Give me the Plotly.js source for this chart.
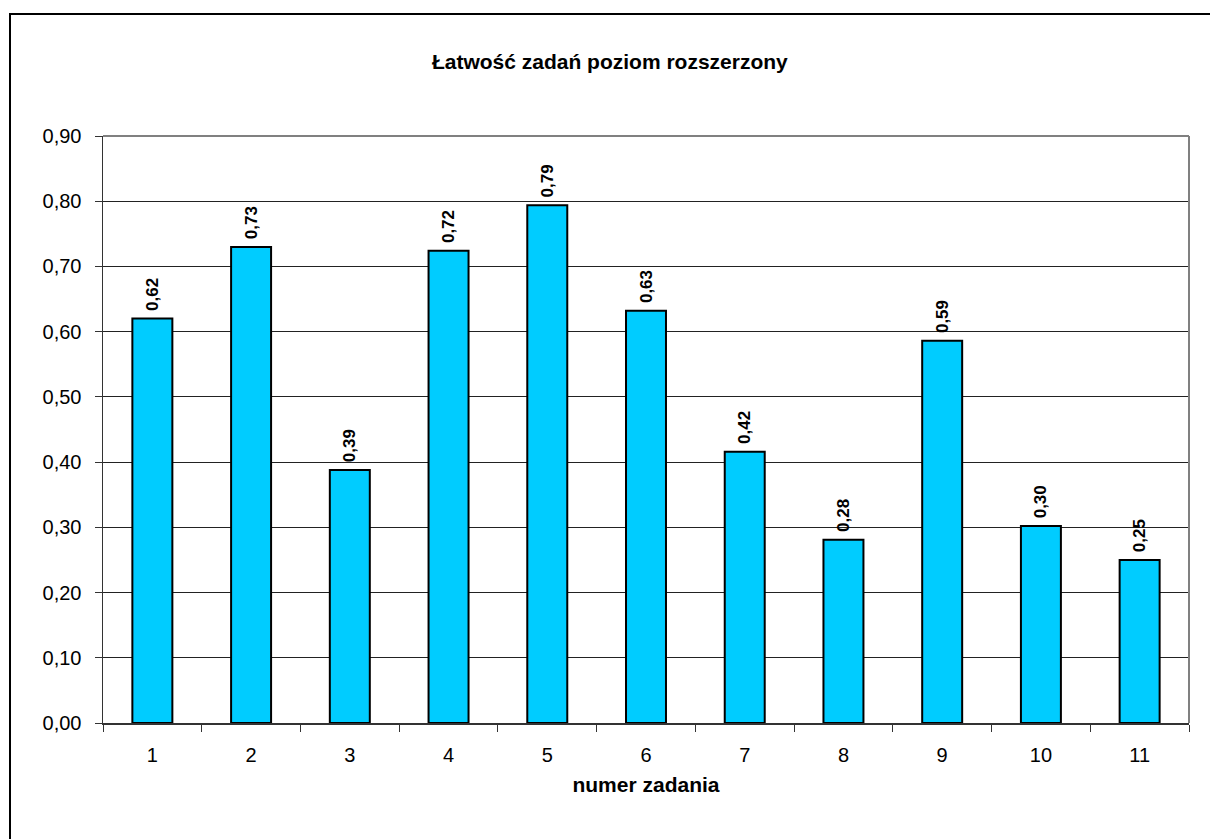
<!DOCTYPE html>
<html>
<head>
<meta charset="utf-8">
<script src="https://cdn.plot.ly/plotly-3.0.1.min.js"></script>
<style>
html,body{margin:0;padding:0;background:#fff;overflow:hidden;width:1210px;height:839px;}
#frame{position:absolute;left:9px;top:13px;width:1400px;height:1000px;border:2px solid #000;box-sizing:border-box;}
#chart{position:absolute;left:0;top:0;width:1210px;height:839px;}
</style>
</head>
<body>
<div id="frame"></div>
<div id="chart"></div>
<script>
const categories = ['1','2','3','4','5','6','7','8','9','10','11'];
const values = [0.62, 0.73, 0.388, 0.724, 0.794, 0.632, 0.416, 0.281, 0.586, 0.302, 0.25];
const yTickVals = [0,0.1,0.2,0.3,0.4,0.5,0.6,0.7,0.8,0.9];
const yTickText = ['0,00','0,10','0,20','0,30','0,40','0,50','0,60','0,70','0,80','0,90'];
const chartTitle = 'Łatwość zadań poziom rozszerzony';
const xTitle = 'numer zadania';

const labels = values.map(v => '\u00a0' + v.toFixed(2).replace('.', ','));
const FONT = 'Arial, "Liberation Sans", sans-serif';

const trace = {
  type: 'bar',
  x: categories,
  y: values,
  text: labels,
  textposition: 'outside',
  textangle: -90,
  constraintext: 'none',
  cliponaxis: false,
  textfont: {family: FONT, size: 17, color: '#000', weight: 'bold'},
  marker: {color: '#00CCFF', line: {color: '#000', width: 2}},
  hoverinfo: 'skip'
};

const layout = {
  width: 1210, height: 839,
  margin: {l: 103, r: 21, t: 136, b: 116, pad: 0},
  paper_bgcolor: 'rgba(0,0,0,0)',
  plot_bgcolor: '#fff',
  showlegend: false,
  bargap: 0.595,
  font: {family: FONT, color: '#000'},
  title: {
    text: '<b>' + chartTitle + '</b>',
    font: {family: FONT, size: 21, color: '#000'},
    xref: 'container', x: 0.504, xanchor: 'center',
    yref: 'container', y: 1 - 62/839, yanchor: 'middle'
  },
  xaxis: {
    type: 'category',
    tickson: 'boundaries',
    ticks: 'outside', ticklen: 7, tickwidth: 1, tickcolor: '#333',
    ticklabelstandoff: 13,
    tickfont: {family: FONT, size: 20, color: '#000'},
    showline: true, linecolor: '#333', linewidth: 1.5,
    showgrid: false, zeroline: false,
    title: {text: '<b>' + xTitle + '</b>', font: {family: FONT, size: 21, color: '#000'}, standoff: 13}
  },
  yaxis: {
    range: [0, 0.9],
    tickvals: yTickVals, ticktext: yTickText,
    ticks: 'outside', ticklen: 7, tickwidth: 1, tickcolor: '#333',
    ticklabelstandoff: 9,
    tickfont: {family: FONT, size: 20, color: '#000'},
    showline: true, linecolor: '#333', linewidth: 1.5,
    showgrid: true, gridcolor: '#222', gridwidth: 1,
    zeroline: false
  },
  shapes: [
    {type: 'line', xref: 'paper', yref: 'paper', x0: 0, x1: 1, y0: 1, y1: 1, line: {color: '#808080', width: 2}, layer: 'above'},
    {type: 'line', xref: 'paper', yref: 'paper', x0: 1, x1: 1, y0: 0, y1: 1, line: {color: '#808080', width: 2}, layer: 'above'}
  ]
};

Plotly.newPlot('chart', [trace], layout, {displayModeBar: false, staticPlot: true});
</script>
</body>
</html>
